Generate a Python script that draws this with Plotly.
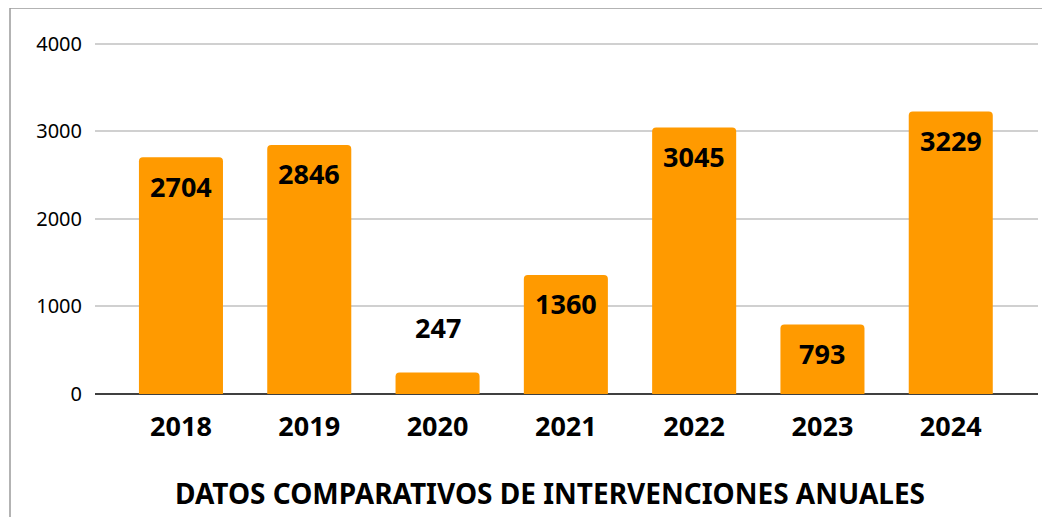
import plotly.graph_objects as go

years = ["2018", "2019", "2020", "2021", "2022", "2023", "2024"]
values = [2704, 2846, 247, 1360, 3045, 793, 3229]
label_shift = [-29, -29, 45, -29, -29, -29, -29]
title_text = "DATOS COMPARATIVOS DE INTERVENCIONES ANUALES"

BAR = "#FF9A00"
FONT = "Noto Sans"

# page has an 8px body margin: plot area at page x 95..1038, zero line at page y 394
ML, PW = 87, 943
PX_PER_UNIT = 350 / 4000
YMAX = 4022
PH = YMAX * PX_PER_UNIT
MT = (394 - 8) - PH


def py(page_y):
    """page-pixel y -> paper y"""
    return (394 - page_y) / PH


def px(page_x):
    return (page_x - 95) / PW


fig = go.Figure()
fig.add_trace(go.Bar(
    x=years, y=values, marker=dict(color=BAR, line=dict(width=0)),
    width=0.655, hoverinfo="skip",
))

for i, (v, s) in enumerate(zip(values, label_shift)):
    fig.add_annotation(
        x=i, y=v, xref="x", yref="y", text=f"<b>{v}</b>", showarrow=False,
        yshift=s, yanchor="middle", font=dict(family=FONT, size=27, color="black"),
    )

fig.add_annotation(
    x=px(550), y=py(493), xref="paper", yref="paper",
    text=f"<b>{title_text}</b>", showarrow=False, xanchor="center", yanchor="middle",
    font=dict(family=FONT, size=28, color="black"),
)

# outer frame (left and top edges)
fig.add_shape(type="line", xref="paper", yref="paper",
              x0=px(10), x1=px(10), y0=py(8), y1=-0.5,
              line=dict(color="#9a9a9a", width=1.5))
fig.add_shape(type="line", xref="paper", yref="paper",
              x0=px(10), x1=1.1, y0=py(8), y1=py(8),
              line=dict(color="#9a9a9a", width=1.5))

fig.update_layout(
    width=1050, height=517,
    margin=dict(l=ML, r=1050 - ML - PW, t=MT, b=517 - MT - PH, autoexpand=False),
    paper_bgcolor="white", plot_bgcolor="white",
    showlegend=False,
    barcornerradius=4,
    font=dict(family=FONT, color="black"),
)
fig.update_xaxes(
    type="category", range=[-0.67, 6.68], showgrid=False, showline=False, zeroline=False,
    tickfont=dict(family=FONT, size=27, color="black"),
    ticks="", tickprefix="<b>", ticksuffix="</b>", automargin=False,
    ticklabelstandoff=14,
)
fig.update_yaxes(
    range=[0, YMAX], tickvals=[0, 1000, 2000, 3000, 4000],
    showgrid=True, gridcolor="#d0d0d0", gridwidth=1.5,
    zeroline=True, zerolinecolor="#404040", zerolinewidth=2,
    tickfont=dict(family=FONT, size=20, color="black"),
    ticks="", ticklabelstandoff=12, automargin=False,
)

fig.write_html("out.html")
